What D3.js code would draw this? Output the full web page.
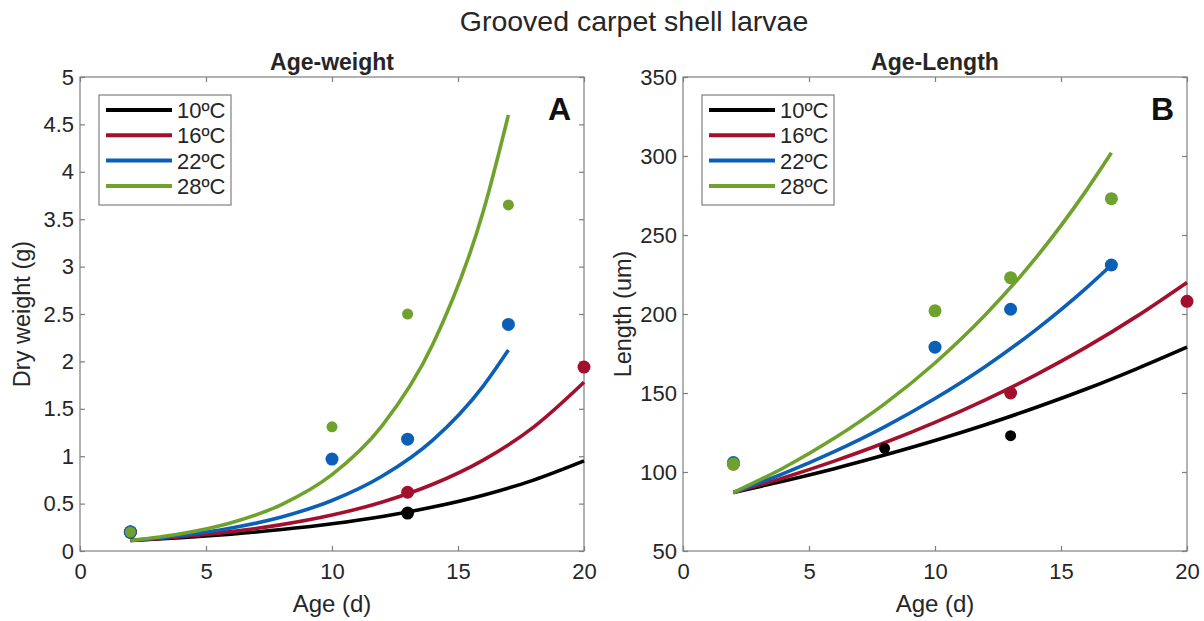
<!DOCTYPE html>
<html>
<head>
<meta charset="utf-8">
<script src="https://cdn.jsdelivr.net/npm/d3@7"></script>
<style>
  html, body { margin: 0; padding: 0; background: #fff; }
  svg { display: block; font-family: "Liberation Sans", Arial, Helvetica, sans-serif; }
</style>
</head>
<body>
<svg id="chart" width="1204" height="621"></svg>
<script>
// ---------- DATA ----------
const seriesNames = ["10ºC", "16ºC", "22ºC", "28ºC"];
const xTicks = [0, 5, 10, 15, 20];
const weightTicks = [0, 0.5, 1, 1.5, 2, 2.5, 3, 3.5, 4, 4.5, 5];
const weightTickLabels = ["0", "0.5", "1", "1.5", "2", "2.5", "3", "3.5", "4", "4.5", "5"];
const lengthTicks = [50, 100, 150, 200, 250, 300, 350];

// fitted curves
const fitAgeTo20 = [2, 4, 6, 8, 10, 12, 14, 16, 18, 20];
const fitAgeTo17 = [2, 4, 6, 8, 10, 12, 14, 16, 17];

const weightFit10 = [0.11, 0.14, 0.178, 0.226, 0.287, 0.364, 0.463, 0.588, 0.748, 0.95];
const weightFit16 = [0.11, 0.15, 0.204, 0.278, 0.379, 0.517, 0.704, 0.959, 1.307, 1.78];
const weightFit22 = [0.11, 0.163, 0.242, 0.359, 0.533, 0.791, 1.17, 1.74, 2.12];
const weightFit28 = [0.11, 0.181, 0.298, 0.49, 0.805, 1.325, 2.18, 3.58, 4.6];

const lengthFit10 = [87, 94.3, 102.1, 110.7, 119.9, 129.9, 140.8, 152.5, 165.3, 179];
const lengthFit16 = [87, 96.4, 106.9, 118.5, 131.4, 145.7, 161.5, 179.0, 198.5, 220];
const lengthFit22 = [87, 99.1, 112.9, 128.6, 146.5, 166.8, 190.0, 216.4, 231];
const lengthFit28 = [87, 102.7, 121.3, 143.1, 169, 199.5, 235.5, 278.1, 302];

// observations
const weightObsAge10 = [2, 13];        const weightObs10 = [0.2, 0.4];
const weightObsAge16 = [2, 13, 20];    const weightObs16 = [0.2, 0.62, 1.94];
const weightObsAge22 = [2, 10, 13, 17]; const weightObs22 = [0.2, 0.97, 1.18, 2.39];
const weightObsAge28 = [2, 10, 13, 17]; const weightObs28 = [0.2, 1.31, 2.5, 3.65];

const lengthObsAge10 = [2, 8, 13];       const lengthObs10 = [105, 115, 123];
const lengthObsAge16 = [2, 13, 20];      const lengthObs16 = [105, 150, 208];
const lengthObsAge22 = [2, 10, 13, 17];  const lengthObs22 = [106, 179, 203, 231];
const lengthObsAge28 = [2, 10, 13, 17];  const lengthObs28 = [105, 202, 223, 273];

// ---------- STYLE ----------
const colors = ["#000000", "#a3102e", "#0b5fb7", "#6fa22c"];
const textColor = "#262626";
const frameColor = "#7f7f7f";

const svg = d3.select("#chart");

svg.append("text")
  .attr("x", 634).attr("y", 31)
  .attr("text-anchor", "middle")
  .attr("font-size", 28.5)
  .attr("fill", textColor)
  .text("Grooved carpet shell larvae");

function panel(opts) {
  const { left, right, top, bottom, yDomain, yTicks, yTickLabels, title, ylabel, letter,
          fits, fitAges, obs, obsAges, radii, ylabOffset } = opts;
  const x = d3.scaleLinear().domain([0, 20]).range([left, right]);
  const y = d3.scaleLinear().domain(yDomain).range([bottom, top]);
  const g = svg.append("g");

  // frame
  g.append("rect").attr("x", left).attr("y", top)
    .attr("width", right - left).attr("height", bottom - top)
    .attr("fill", "none").attr("stroke", frameColor).attr("stroke-width", 1.2);

  // axes (ticks inward)
  const fmt = (d, i) => yTickLabels ? yTickLabels[i] : String(d);
  const xb = g.append("g").attr("transform", `translate(0,${bottom})`)
    .call(d3.axisBottom(x).tickValues(xTicks).tickSize(-5).tickPadding(12).tickFormat(d => String(d)));
  const xt = g.append("g").attr("transform", `translate(0,${top})`)
    .call(d3.axisTop(x).tickValues(xTicks).tickSize(-5).tickFormat(""));
  const yl = g.append("g").attr("transform", `translate(${left},0)`)
    .call(d3.axisLeft(y).tickValues(yTicks).tickSize(-5).tickPadding(6).tickFormat(fmt));
  const yr = g.append("g").attr("transform", `translate(${right},0)`)
    .call(d3.axisRight(y).tickValues(yTicks).tickSize(-5).tickFormat(""));
  [xb, xt, yl, yr].forEach(a => {
    a.select(".domain").remove();
    a.selectAll(".tick line").attr("stroke", frameColor).attr("stroke-width", 1.2);
    a.selectAll(".tick text").attr("fill", textColor).attr("font-size", 22)
      .attr("font-family", "'Liberation Sans', Arial, Helvetica, sans-serif");
  });

  // fit lines
  const line = d3.line().x(d => x(d[0])).y(d => y(d[1])).curve(d3.curveMonotoneX);
  fits.forEach((vals, i) => {
    const pts = vals.map((v, j) => [fitAges[i][j], v]);
    g.append("path").datum(pts).attr("d", line)
      .attr("fill", "none").attr("stroke", colors[i]).attr("stroke-width", 3.6);
  });

  // observations
  obs.forEach((vals, i) => {
    g.append("g").selectAll("circle")
      .data(vals.map((v, j) => [obsAges[i][j], v]))
      .join("circle")
      .attr("cx", d => x(d[0])).attr("cy", d => y(d[1]))
      .attr("r", radii[i]).attr("fill", colors[i]);
  });

  // titles
  g.append("text").attr("x", (left + right) / 2).attr("y", top - 7)
    .attr("text-anchor", "middle").attr("font-size", 23).attr("font-weight", "bold")
    .attr("fill", textColor).text(title);
  g.append("text").attr("x", (left + right) / 2).attr("y", bottom + 61)
    .attr("text-anchor", "middle").attr("font-size", 24)
    .attr("fill", textColor).text("Age (d)");
  g.append("text")
    .attr("transform", `translate(${left - ylabOffset},${(top + bottom) / 2}) rotate(-90)`)
    .attr("text-anchor", "middle").attr("font-size", 23.5)
    .attr("fill", textColor).text(ylabel);

  // panel letter
  g.append("text").attr("x", right - 13).attr("y", top + 43)
    .attr("text-anchor", "end").attr("font-size", 32).attr("font-weight", "bold")
    .attr("fill", "#111").text(letter);

  // legend
  const lx = left + 19, ly = top + 18, lw = 132, lh = 110;
  const lg = g.append("g");
  lg.append("rect").attr("x", lx).attr("y", ly).attr("width", lw).attr("height", lh)
    .attr("fill", "#fff").attr("stroke", frameColor).attr("stroke-width", 1.2);
  seriesNames.forEach((name, i) => {
    const yy = ly + 15 + i * 25.3;
    lg.append("line").attr("x1", lx + 7).attr("x2", lx + 73)
      .attr("y1", yy).attr("y2", yy)
      .attr("stroke", colors[i]).attr("stroke-width", 4);
    lg.append("text").attr("x", lx + 78).attr("y", yy + 8)
      .attr("font-size", 22).attr("fill", textColor).text(name);
  });
}

panel({
  left: 80, right: 584, top: 77, bottom: 551,
  yDomain: [0, 5], yTicks: weightTicks, yTickLabels: weightTickLabels,
  title: "Age-weight", ylabel: "Dry weight (g)", letter: "A", ylabOffset: 50,
  fits: [weightFit10, weightFit16, weightFit22, weightFit28],
  fitAges: [fitAgeTo20, fitAgeTo20, fitAgeTo17, fitAgeTo17],
  obs: [weightObs10, weightObs16, weightObs22, weightObs28],
  obsAges: [weightObsAge10, weightObsAge16, weightObsAge22, weightObsAge28],
  radii: [6.5, 6.5, 6.5, 5.5]
});

panel({
  left: 683, right: 1187, top: 77, bottom: 551,
  yDomain: [50, 350], yTicks: lengthTicks, yTickLabels: null,
  title: "Age-Length", ylabel: "Length (um)", letter: "B", ylabOffset: 52,
  fits: [lengthFit10, lengthFit16, lengthFit22, lengthFit28],
  fitAges: [fitAgeTo20, fitAgeTo20, fitAgeTo17, fitAgeTo17],
  obs: [lengthObs10, lengthObs16, lengthObs22, lengthObs28],
  obsAges: [lengthObsAge10, lengthObsAge16, lengthObsAge22, lengthObsAge28],
  radii: [5.5, 6.5, 6.5, 6.5]
});
</script>
</body>
</html>
